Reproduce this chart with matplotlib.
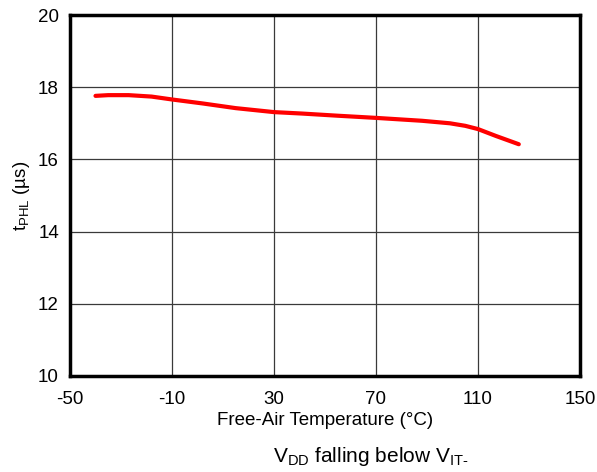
import numpy as np
import matplotlib.pyplot as plt

plt.rcParams['font.family'] = ['Liberation Sans', 'DejaVu Sans']
plt.rcParams['mathtext.fontset'] = 'custom'
plt.rcParams['mathtext.rm'] = 'Liberation Sans'
plt.rcParams['axes.unicode_minus'] = False

temp = [-40, -35, -27, -18, -10, 2, 15, 30, 41, 55, 70, 88, 99, 105, 110, 117, 126]
tphl = [17.76, 17.78, 17.78, 17.74, 17.66, 17.55, 17.42, 17.31, 17.27, 17.21, 17.15,
        17.07, 17.00, 16.93, 16.84, 16.65, 16.42]

xticks = [-50, -10, 30, 70, 110, 150]
yticks = [10, 12, 14, 16, 18, 20]

fig = plt.figure(figsize=(5.97, 4.72), dpi=100)
ax = fig.add_axes([70 / 597, 1 - 376 / 472, 510 / 597, 361 / 472])

ax.plot(temp, tphl, color='#ff0000', lw=3, solid_capstyle='round', zorder=3)

ax.set_xlim(-50, 150)
ax.set_ylim(10, 20)
ax.set_xticks(xticks)
ax.set_yticks(yticks)
ax.grid(True, color='#3a3a3a', lw=0.9)
ax.tick_params(length=0, labelsize=13.5)
ax.tick_params(axis='x', pad=11)
ax.tick_params(axis='y', pad=8)
for s in ax.spines.values():
    s.set_linewidth(2.5)
    s.set_color('black')

ax.set_xlabel('Free-Air Temperature (°C)', fontsize=13.5, labelpad=3)
ax.set_ylabel(r'$\mathregular{t_{PHL}}$ (µs)', fontsize=13.5, labelpad=4)
fig.text(371 / 597, 1 - 457 / 472, r'$\mathregular{V_{DD}}$ falling below $\mathregular{V_{IT\text{-}}}$',
         ha='center', va='center', fontsize=15)

fig.savefig('out.png', dpi=100)
